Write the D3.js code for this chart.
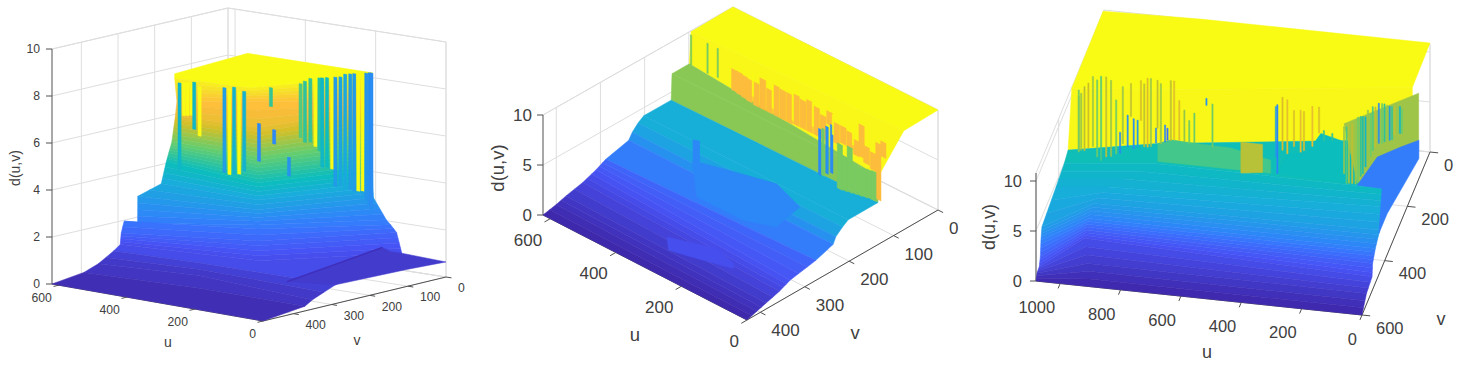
<!DOCTYPE html>
<html>
<head>
	<meta charset="utf-8">
	<title>d(u,v)</title>
	<style>
		body { margin: 0; background: #fff; }
		svg { display: block; }
		text { font-family: "Liberation Sans", Arial, sans-serif; fill: #404040; }
	</style>
</head>
<body>
<svg width="1464" height="369"></svg>
<script src="https://cdn.jsdelivr.net/npm/d3@7"></script>
<script>
	// left panel: contour lines of the surface, back to front
	const p1Z = [8.2, 8.0, 7, 6.6, 5.3, 4.1, 3.3, 2.9, 2.1, 2.0, 1.6, 1.0, 0.8, 0.4, 0.2, 0]
	const p1UL = [540, 540, 540, 505, 545, 616, 600, 617, 560, 613, 600, 620, 619, 620, 616, 620]
	const p1VL = [221, 221, 215, 252, 224, 172, 201, 249, 303, 290, 310, 294, 313, 354, 397, 480]
	const p1UM = [564, 342, 404, 280, 291, 306, 319, 316, 341, 330, 312, 270, 391, 366, 307, 310]
	const p1VM = [0, 201, 127, 237, 228, 214, 204, 206, 183, 193, 210, 247, 296, 319, 371, 480]
	const p1UR = [209, 209, 209, 209, 209, 209, 208, 204, 159, 134, 134, 77, 0, 0, 0, 0]
	const p1VR = [0, 0, 0, 0, 0, 0, 0, 2, 10, 22, 6, 45, 290, 350, 370, 480]
	// streaks on the cliff
	const p1StreakU = [465, 459, 454, 449, 445, 438, 405, 398, 392, 385, 379, 359, 343, 339, 319, 304, 298, 291, 284, 279, 275, 269, 262, 258, 251, 245, 238, 233, 228, 222, 217, 213, 210]
	const p1StreakV = [278, 272, 267, 261, 257, 249, 213, 206, 199, 192, 184, 163, 146, 141, 120, 103, 97, 89, 82, 76, 72, 65, 58, 53, 46, 39, 32, 26, 20, 14, 9, 4, 2]
	const p1StreakLo = [4.5, 6.8, 6.8, 6.8, 6.2, 5.9, 4.3, 4.2, 4.2, 4.2, 4.3, 4.7, 7.0, 5.4, 4.0, 5.6, 5.4, 5.4, 5.2, 5.0, 4.3, 4.3, 4.2, 3.45, 3.45, 3.3, 3.3, 3.2, 3.2, 3.2, 2.8, 2.5, 2.3]
	const p1StreakHi = [8.2, 8.2, 8.2, 8.2, 8.2, 8.0, 7.9, 7.85, 7.9, 7.75, 7.7, 6.3, 7.8, 6.0, 4.8, 7.9, 8.0, 8.1, 8.0, 8.1, 8.1, 8.1, 8.1, 8.1, 8.1, 8.2, 8.2, 8.2, 8.2, 8.2, 8.2, 8.2, 8.2]
	const p1StreakC = [3.8, 8.2, 8.2, 8.2, 3.8, 8.2, 3, 8.2, 3.6, 8.2, 3.6, 2.4, 4.6, 2.4, 2.7, 5.0, 4.5, 4.6, 8.2, 4.4, 3.8, 4.0, 8.2, 2.9, 3.2, 3.3, 3.0, 2.9, 8.2, 8.2, 2.7, 2.6, 2.5]
	// low terrace in front on the right, and the dark crease along its back
	const p1SheetU = [[107, 121, 126, 126, 0, 0, 0], [107, 121, 121, 107]]
	const p1SheetV = [[320, 57, 30, 0, 0, 100, 290], [320, 57, 57, 320]]
	const p1SheetZ = [[0.8, 1.2, 0.9, 0.72, 0.64, 0.72, 0.8], [0.8, 1.2, 1.17, 0.77]]
	const p1SheetC = [0.55, 0.25]

	// middle panel
	const p2Z = [10, 9.9, 6.8, 6.8, 4.2, 4.2, 3.8, 3.2, 2.6, 2.0, 1.5, 1.0, 0.6, 0.3, 0]
	const p2VL = [0, 95, 99, 138, 140, 202, 215, 228, 236, 288, 310, 340, 378, 400, 430]
	const p2VR = [0, 77, 134, 134, 135, 202, 215, 230, 236, 275, 333, 357, 387, 408, 430]
	const p2UL = p2Z.map(() => 622)
	const p2UR = p2Z.map(() => 0)
	const p2StreakU = [467, 452, 437, 422, 401, 381, 361, 340, 320, 300, 279, 259, 239, 218, 198, 178, 157, 137, 117, 97, 81, 66, 46, 30, 15, 147, 132, 117, 102, 86, 71, 56, 44, 208, 198, 186, 172, 599, 549, 518, 411, 351, 290, 229, 168, 107]
	const p2StreakSpan = [18, 18, 18, 18, 18, 18, 18, 18, 18, 18, 18, 18, 18, 18, 18, 18, 18, 18, 18, 18, 16, 18, 18, 16, 16, 16, 16, 16, 16, 16, 16, 16, 14, 8, 8, 8, 8, 4, 4, 4, 4, 4, 4, 4, 4, 4]
	const p2StreakLo = [7.0, 6.9, 6.8, 6.7, 6.6, 6.6, 6.6, 6.6, 6.6, 6.6, 6.7, 6.7, 6.7, 6.7, 6.7, 8.4, 6.9, 7.2, 7.1, 6.7, 6.8, 6.4, 6.1, 3.4, 7.9, 2.5, 2.6, 2.7, 2.8, 2.9, 3, 3.1, 3.1, 2.9, 3.0, 3.4, 3.7, 7.4, 7.4, 7.5, 7.4, 7.2, 7.0, 7.4, 7.6, 7.6]
	const p2StreakHi = [9.1, 9.1, 9, 8.9, 8.9, 9.6, 8.9, 9.6, 9.5, 9.5, 9.7, 9.5, 9.8, 9.5, 9.0, 9.7, 8.9, 8.9, 8.7, 8.2, 10, 8.1, 7.8, 9, 9.4, 7.0, 6, 7.2, 5.8, 5.7, 5.8, 5.9, 6, 7.5, 7.7, 8.1, 8.5, 10.4, 10.4, 10.4, 9.6, 9.6, 9.8, 9.8, 9.6, 9.4]
	const p2StreakC = [8.4, 8.4, 8.4, 8.4, 8.4, 8.4, 8.4, 8.4, 8.4, 8.4, 8.4, 8.4, 8.4, 8.4, 8.4, 8.4, 8.4, 8.4, 8.4, 8.4, 8.4, 8.4, 8.4, 8.4, 8.4, 6.6, 6.6, 6.6, 6.6, 6.6, 6.6, 6.6, 6.6, 3.0, 6.5, 3.2, 3.0, 6.6, 6.6, 6.6, 10, 10, 10, 10, 10, 10]
	const p2PatchU = [[453, 366, 253, 150, 132, 204, 345], [325, 213, 144, 130, 217, 285], [475, 455, 455, 475]]
	const p2PatchV = [[217, 198, 176, 200, 266, 287, 288], [370, 341, 354, 365, 383, 396], [200, 200, 200, 200]]
	const p2PatchZ = [[2.9, 2.9, 2.9, 2.9, 2.9, 2.9, 2.9], [1.3, 1.3, 1.3, 1.3, 1.3, 1.3], [4.2, 4.4, 2.4, 1.0]]
	const p2PatchC = [2.9, 1.3, 2.9]

	// right panel
	const p3Z = [10.9, 10.7, 5.4, 5.2, 4.6, 4, 3, 2, 1.4, 0.7, 0]
	const p3UL = [1080, 1080, 1080, 1077, 1080, 1080, 1079, 1072, 1070, 1078, 1080]
	const p3VL = [8, 284, 317, 358, 423, 548, 559, 583, 598, 597, 600]
	const p3UM = [752, 752, 804, 791, 916, 945, 954, 962, 964, 930, 896]
	const p3VM = [0, 252, 261, 325, 404, 446, 466, 472, 481, 544, 600]
	const p3UR = [0, 0, 0, 35, 18, 3, 6, 8, 0, 5, 0]
	const p3VR = [0, 156, 153, 330, 373, 435, 466, 485, 511, 547, 600]
	const p3StreakU = [1078, 1078, 1059, 1031, 1004, 971, 954, 941, 916, 896, 883, 861, 839, 822, 806, 792, 784, 762, 745, 695, 655, 635, 425, 420, 403, 387, 365, 343, 332, 304, 282, 266, 238, 183, 172, 161, 144, 128, 111, 95, 84, 73, 56, 40, 23, 7,
		1070, 1046, 1017, 987, 932, 905, 872, 850, 817, 773, 728, 712, 199, 191, 153, 137, 120, 104, 65, 48, 32, 14]
	const p3StreakLo = [2.9, 2.8, 3.0, 3.5, 2.2, 2.7, 3.0, 3.1, 3.8, 3.7, 3.9, 4.0, 4.1, 4.5, 4.5, 4.7, 4.9, 5.0, 5.0, 4.9, 8.8, 4.7, 4.4, 2.7, 5.1, 4.8, 5.6, 5.1, 5.3, 5.8, 7.2, 6.5, 6.6, 2.5, 2.5, 2.5, 3.3, 4.3, 5.4, 6.4, 6.8, 6.8, 7.2, 7.3, 8, 8,
		3.0, 3.3, 2.5, 2.6, 4.1, 6.9, 6.6, 4, 6, 4.9, 4.9, 4.8, 3.4, 2.4, 2.7, 3.6, 4.7, 6, 7, 7.2, 7.8, 8]
	const p3StreakHi = [8.4, 9.0, 9.4, 10.5, 10.6, 10.3, 8.4, 5.2, 7.0, 6.7, 6.6, 10.3, 10.9, 6.0, 10.5, 6.4, 6.1, 10.9, 9.0, 7.9, 9.5, 9.0, 9.4, 9.6, 10.4, 10.2, 9.2, 9.3, 9.2, 9.8, 9.8, 7.5, 7.3, 8.5, 8.5, 8.9, 9.3, 9.3, 9.7, 10.4, 10.8, 10.8, 10.7, 10.6, 10.6, 10.5,
		8.7, 9.8, 10.2, 10.6, 9.8, 10.2, 10.6, 10.9, 10.8, 10.9, 8.1, 7.1, 8.1, 8.1, 9.2, 9.3, 10, 10.4, 10.8, 10.6, 10.6, 10.7]
	const p3StreakC = [8, 7, 8, 7.5, 6.5, 7.5, 7, 3.2, 3.5, 3.2, 4, 8, 7.5, 3.2, 7.5, 3, 2.5, 8.5, 8.5, 7, 3.5, 7, 4, 3, 8.4, 8.6, 8.4, 8.6, 8.4, 8.7, 8.4, 6, 6, 7.8, 8, 7.5, 6, 5, 7, 8, 3.3, 7, 7.5, 6, 7.5, 7,
		7.5, 8.2, 7, 8, 7.5, 8, 8.3, 8.5, 8, 8, 7.5, 7, 7.5, 6.5, 7, 5.5, 7.5, 6.5, 6, 4, 8, 5]
	const p3PatchU = [[780, 736, 659, 538, 406, 406, 780], [505, 433, 433, 505], [0, 0, 155, 199], [389, 350, 284, 240, 174, 152, 152]]
	const p3PatchV = [[324, 324, 324, 324, 324, 324, 324], [324, 324, 324, 324], [100, 100, 228, 228], [324, 324, 324, 324, 324, 324, 324]]
	const p3PatchZ = [[7.2, 7.7, 7.6, 7.5, 6.7, 5.4, 5.4], [8.2, 8.2, 5.4, 5.1], [8.6, 3.9, 2.6, 8.4], [5.4, 7.4, 7.9, 9.9, 9.4, 8.5, 5.2]]
	const p3PatchC = [6.3, 7.9, 7.6, 5.3]
	const p3FlankU = [[147, 121, 60, 11, 0, 0, 0, 0, 35]]
	const p3FlankV = [[250, 143, 99, 68, 98, 259, 377, 451, 330]]
	const p3FlankZ = [[3, 3, 3, 3, 2, 3.2, 4.1, 4.1, 5.2]]
	const p3FlankC = [2.8]

	// tick labels
	const p1UTicks = [0, 200, 400, 600], p1VTicks = [0, 100, 200, 300, 400], p1ZTicks = [0, 2, 4, 6, 8, 10]
	const p2UTicks = [0, 200, 400, 600], p2VTicks = [0, 100, 200, 300, 400], p2ZTicks = [0, 5, 10]
	const p3UTicks = [0, 200, 400, 600, 800, 1000], p3VTicks = [0, 200, 400, 600], p3ZTicks = [0, 5, 10]

	// parula
	const parula = d3.scaleLinear()
		.domain([0, 0.143, 0.238, 0.286, 0.413, 0.492, 0.635, 0.762, 0.841, 0.92, 1])
		.range(["#3e26a8", "#4752f4", "#3875fe", "#2d87f7", "#18addb", "#0bbdbc", "#63cd6f", "#d1bf27", "#febd3c", "#f7dc2a", "#f9fb14"])
		.clamp(true)

	const panels = [
		{
			uMax: 620, vMax: 480, zTop: 10, zPx: 235, clim: 8.2, font: 12.2, labelFont: 14,
			A: [263, 321], B: [52, 284], C: [446, 277], D: [228, 243],
			levels: p1Z, us: [p1UL, p1UM, p1UR], vs: [p1VL, p1VM, p1VR], flat: 0, step: 0.2,
			streak: { u: p1StreakU, v: p1StreakV, lo: p1StreakLo, hi: p1StreakHi, c: p1StreakC, span: 9 },
			back: null, front: { u: p1SheetU, v: p1SheetV, z: p1SheetZ, c: p1SheetC },
			uTicks: p1UTicks, vTicks: p1VTicks, zTicks: p1ZTicks,
			uOff: [-7, 13], vOff: [12, 11], zLabelX: 40, uLabel: [168, 342], vLabel: [357, 340], dLabel: [15, 168]
		},
		{
			uMax: 622, vMax: 430, zTop: 10, zPx: 100, clim: 10, font: 17, labelFont: 18.5,
			A: [747, 320], B: [543, 215], C: [938, 210], D: [733, 107],
			levels: p2Z, us: [p2UL, p2UR], vs: [p2VL, p2VR], flat: 9, step: 0.2,
			streak: { u: p2StreakU, v: 112, lo: p2StreakLo, hi: p2StreakHi, c: p2StreakC, span: p2StreakSpan },
			back: { u: p2PatchU, v: p2PatchV, z: p2PatchZ, c: p2PatchC }, front: null,
			uTicks: p2UTicks, vTicks: p2VTicks, zTicks: p2ZTicks,
			uOff: [-8, 21], vOff: [11, 18], zLabelX: 532, uLabel: [635, 335], vLabel: [855, 333], dLabel: [498, 168]
		},
		{
			uMax: 1080, vMax: 600, zTop: 10.8, zPx: 108, clim: 10.8, font: 16.5, labelFont: 18,
			A: [1362, 315], B: [1036, 281], C: [1430, 152], D: [1104, 118],
			levels: p3Z, us: [p3UL, p3UM, p3UR], vs: [p3VL, p3VM, p3VR], flat: 3, step: 0.25,
			streak: { u: p3StreakU, v: 228, lo: p3StreakLo, hi: p3StreakHi, c: p3StreakC, span: 4 },
			back: { u: p3PatchU, v: p3PatchV, z: p3PatchZ, c: p3PatchC },
			front: { u: p3FlankU, v: p3FlankV, z: p3FlankZ, c: p3FlankC },
			uTicks: p3UTicks, vTicks: p3VTicks, zTicks: p3ZTicks,
			uOff: [-5, 24], vOff: [14, 13], zLabelX: 1022, uLabel: [1207, 352], vLabel: [1441, 319], dLabel: [989, 227]
		}
	]

	const svg = d3.select("svg")
	const at = (a, i) => Array.isArray(a) ? a[i] : a

	panels.forEach(p => {
		const scS = d3.scaleLinear().domain([0, p.uMax]).range([0, 1])
		const scT = d3.scaleLinear().domain([p.vMax, 0]).range([0, 1])
		const scZ = d3.scaleLinear().domain([0, p.zTop]).range([0, p.zPx])
		const color = z => parula(z / p.clim)

		// the four floor corners are not a perfect parallelogram, so mix them
		const project = (u, v, z) => {
			const s = scS(u), t = scT(v)
			const x = p.A[0] * (1 - s) * (1 - t) + p.B[0] * s * (1 - t) + p.C[0] * (1 - s) * t + p.D[0] * s * t
			const y = p.A[1] * (1 - s) * (1 - t) + p.B[1] * s * (1 - t) + p.C[1] * (1 - s) * t + p.D[1] * s * t
			return [x, y - scZ(z)]
		}
		const line = d3.line()

		const g = svg.append("g")

		// walls and floor grid
		const grid = g.append("g").attr("fill", "none").attr("stroke", "#dedede").attr("stroke-width", 1)
		const seg = (a, b) => grid.append("path").attr("d", line([a, b]))
		p.zTicks.forEach(z => {
			seg(project(p.uMax, p.vMax, z), project(p.uMax, 0, z))
			seg(project(p.uMax, 0, z), project(0, 0, z))
		})
		p.vTicks.forEach(v => {
			seg(project(p.uMax, v, 0), project(p.uMax, v, p.zTop))
			seg(project(0, v, 0), project(p.uMax, v, 0))
		})
		p.uTicks.forEach(u => {
			seg(project(u, 0, 0), project(u, 0, p.zTop))
			seg(project(u, p.vMax, 0), project(u, 0, 0))
		})
		seg(project(p.uMax, p.vMax, p.zTop), project(p.uMax, 0, p.zTop))
		seg(project(p.uMax, 0, p.zTop), project(0, 0, p.zTop))
		seg(project(p.uMax, 0, 0), project(p.uMax, 0, p.zTop))
		seg(project(0, 0, 0), project(0, 0, p.zTop))
		seg(project(p.uMax, p.vMax, 0), project(p.uMax, 0, 0))
		seg(project(p.uMax, 0, 0), project(0, 0, 0))

		// axis lines and ticks
		const axis = g.append("g").attr("fill", "none").attr("stroke", "#505050").attr("stroke-width", 1)
		const axSeg = (a, b) => axis.append("path").attr("d", line([a, b]))
		axSeg(project(p.uMax, p.vMax, 0), project(p.uMax, p.vMax, p.zTop))
		axSeg(project(p.uMax, p.vMax, 0), project(0, p.vMax, 0))
		axSeg(project(0, p.vMax, 0), project(0, 0, 0))

		const surf = g.append("g").style("filter", "blur(0.5px)")
		const poly = (pts, fill) => surf.append("path")
			.attr("d", line(pts) + "Z")
			.attr("fill", fill).attr("stroke", fill).attr("stroke-width", 0.5)

		// bands between neighbouring contour lines, from the back to the front
		const nCols = p.us.length
		d3.range(p.levels.length - 1).forEach(i => {
			const z0 = p.levels[i], z1 = p.levels[i + 1]
			const n = (i < p.flat || !p.step) ? 1 : Math.max(1, Math.ceil(Math.abs(z0 - z1) / p.step))
			d3.range(n).forEach(k => {
				const a = k / n, b = (k + 1) / n
				const edge = f => d3.range(nCols).map(j => {
					const u = p.us[j][i] + (p.us[j][i + 1] - p.us[j][i]) * f
					const v = p.vs[j][i] + (p.vs[j][i + 1] - p.vs[j][i]) * f
					return project(u, v, z0 + (z1 - z0) * f)
				})
				const c = n === 1 ? z0 : z0 + (z1 - z0) * (a + b) / 2
				poly(edge(a).concat(edge(b).reverse()), color(c))
			})
		})

		const drawPatches = q => {
			if (!q) return
			q.c.forEach((c, i) => poly(q.u[i].map((u, j) => project(u, q.v[i][j], q.z[i][j])), color(c)))
		}

		drawPatches(p.back)

		// thin columns on the cliff
		const st = p.streak
		st.u.forEach((u, i) => {
			const v = at(st.v, i), w = at(st.span, i) / 2
			poly([project(u - w, v, st.lo[i]), project(u + w, v, st.lo[i]), project(u + w, v, st.hi[i]), project(u - w, v, st.hi[i])], color(st.c[i]))
		})

		drawPatches(p.front)

		// ticks on top of everything, with their labels
		const tick = g.append("g").attr("fill", "none").attr("stroke", "#505050")
		const label = g.append("g").attr("font-size", p.font)
		p.uTicks.forEach(u => {
			const a = project(u, p.vMax, 0)
			tick.append("path").attr("d", line([a, project(u, p.vMax * 1.03, 0)]))
			label.append("text").attr("x", a[0] + p.uOff[0]).attr("y", a[1] + p.uOff[1]).attr("dy", "0.35em")
				.attr("text-anchor", "end").text(u)
		})
		p.vTicks.forEach(v => {
			const a = project(0, v, 0)
			tick.append("path").attr("d", line([a, project(-p.uMax * 0.025, v, 0)]))
			label.append("text").attr("x", a[0] + p.vOff[0]).attr("y", a[1] + p.vOff[1]).attr("dy", "0.35em")
				.attr("text-anchor", "start").text(v)
		})
		p.zTicks.forEach(z => {
			const a = project(p.uMax, p.vMax, z)
			tick.append("path").attr("d", line([a, [a[0] - 6, a[1]]]))
			label.append("text").attr("x", p.zLabelX).attr("y", a[1]).attr("dy", "0.35em")
				.attr("text-anchor", "end").text(z)
		})

		const titles = g.append("g").attr("font-size", p.labelFont)
		titles.append("text").attr("x", p.uLabel[0]).attr("y", p.uLabel[1]).attr("dy", "0.35em").attr("text-anchor", "middle").text("u")
		titles.append("text").attr("x", p.vLabel[0]).attr("y", p.vLabel[1]).attr("dy", "0.35em").attr("text-anchor", "middle").text("v")
		titles.append("text").attr("transform", `translate(${p.dLabel[0]},${p.dLabel[1]}) rotate(-90)`).attr("dy", "0.35em")
			.attr("text-anchor", "middle").text("d(u,v)")
	})
</script>
</body>
</html>
